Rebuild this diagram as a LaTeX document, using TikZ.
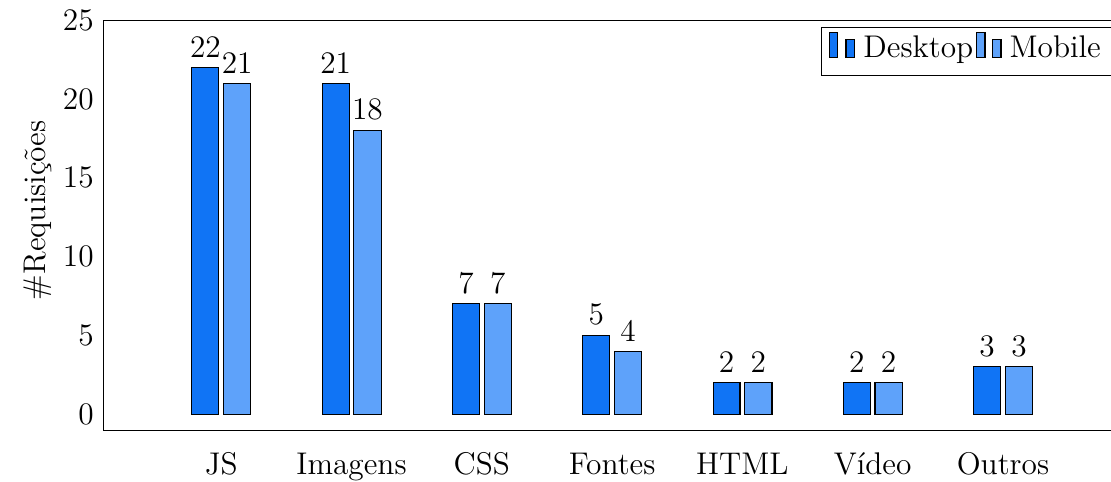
\documentclass[tikz,border=0pt]{standalone}
\definecolor{desktopblue}{RGB}{16,116,245}
\definecolor{mobileblue}{RGB}{94,162,250}
\tikzset{
    bardesk/.style={draw=black, fill=desktopblue},
    barmob/.style={draw=black, fill=mobileblue},
}
\begin{document}
\begin{tikzpicture}[x=1.607cm, y=0.1943cm, font=\fontsize{11}{13}\selectfont]
        \useasboundingbox (-0.698,-4.254) rectangle (7.829,26.29);
        % Draw axis lines
        \draw (7.829,25) -- (0.098,25) -- (0.098,-1.02) -- (7.829,-1.02);
        \node[rotate=90] (ylab) at (-0.406,12.95) {\#Requisições};
        \foreach \t in {0,5,...,25}
            \node[left] (ytick\t) at (0.098,\t) {\t};

        % Bars, values and categories
        \foreach \i/\name/\d/\m in {1/JS/22/21, 2/Imagens/21/18, 3/CSS/7/7,
                4/Fontes/5/4, 5/HTML/2/2, 6/Vídeo/2/2, 7/Outros/3/3} {
            \draw[bardesk] (\i-0.225,0) rectangle (\i-0.018,\d);
            \draw[barmob] (\i+0.018,0) rectangle (\i+0.227,\m);
            \node[above] (vdesk\i) at (\i-0.1215,\d) {\d};
            \node[above] (vmob\i) at (\i+0.1225,\m) {\m};
            \node[anchor=base] (cat\i) at (\i,-3.81) {\name};
        }

        % Legend
        \draw (7.829,24.57) -- (5.609,24.57) -- (5.609,21.52) -- (7.829,21.52);
        \draw[bardesk] (5.667,22.65) rectangle (5.731,24.21);
        \draw[bardesk] (5.795,22.65) rectangle (5.859,23.79);
        \node[anchor=base west, inner sep=0pt] (legdesk) at (5.925,22.65) {Desktop};
        \draw[barmob] (6.798,22.65) rectangle (6.862,24.21);
        \draw[barmob] (6.921,22.65) rectangle (6.985,23.79);
        \node[anchor=base west, inner sep=0pt] (legmob) at (7.046,22.65) {Mobile};
    \end{tikzpicture}
\end{document}
